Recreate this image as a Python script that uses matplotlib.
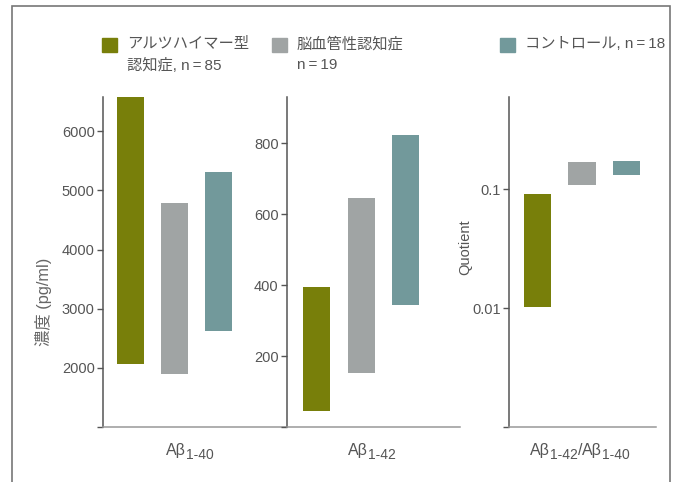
import matplotlib
matplotlib.use("Agg")
import matplotlib.pyplot as plt
from matplotlib.patches import Rectangle

plt.rcParams['font.family'] = ['Liberation Sans', 'Noto Sans CJK JP', 'DejaVu Sans']

# groups and their colours
groups = ['アルツハイマー型\n認知症, n\u2009=\u200985', '脳血管性認知症\nn\u2009=\u200919',
          'コントロール, n\u2009=\u200918']
colors = ['#787f0a', '#a0a4a4', '#72999b']

# concentration ranges (low, high) per group
ab40_low = [2070, 1900, 2620]
ab40_high = [6580, 4780, 5320]
ab42_low = [44, 151, 345]
ab42_high = [395, 646, 822]
ratio_low = [0.0102, 0.109, 0.132]
ratio_high = [0.0907, 0.169, 0.172]

ab40_ticks = [1000, 2000, 3000, 4000, 5000, 6000]
ab40_ticklabels = ['', '2000', '3000', '4000', '5000', '6000']
ab42_ticks = [0, 200, 400, 600, 800]
ab42_ticklabels = ['', '200', '400', '600', '800']
ratio_ticks = [0.001, 0.01, 0.1]
ratio_ticklabels = ['', '0.01', '0.1']

W, H = 683, 482
GREY = '#555555'
fig = plt.figure(figsize=(W / 100, H / 100), dpi=100)
renderer = fig.canvas.get_renderer()

# outer frame, open at the bottom
fig.add_artist(Rectangle((12 / W, -0.05), 658 / W, 1.05 - 6 / H, transform=fig.transFigure,
                         fill=False, edgecolor='#777777', lw=1.2))


def px_axes(x0, x1, y0, y1):
    return fig.add_axes([x0 / W, (H - y1) / H, (x1 - x0) / W, (y1 - y0) / H])


def style(ax):
    for s in ['top', 'right']:
        ax.spines[s].set_visible(False)
    ax.spines['left'].set_color(GREY)
    ax.spines['left'].set_linewidth(1.1)
    ax.spines['bottom'].set_color('#999999')
    ax.spines['bottom'].set_linewidth(1.1)
    ax.tick_params(axis='y', colors=GREY, labelsize=10.5, length=4, width=1, pad=2)
    ax.tick_params(axis='y', which='minor', length=0)
    ax.set_xticks([])


def draw(ax, low, high):
    for i, (lo, hi) in enumerate(zip(low, high)):
        ax.bar(i, hi - lo, bottom=lo, width=0.61, color=colors[i])


def ab_label(cx, base, parts):
    # lay out (text, subscript?) pieces side by side, then centre the row on cx
    pieces = []
    for txt, sub in parts:
        t = fig.text(0, 0, txt, fontsize=10 if sub else 11.5, color=GREY,
                     ha='left', va='baseline')
        pieces.append((t, sub, t.get_window_extent(renderer).width))
    total = sum(w for _, _, w in pieces)
    x = cx - total / 2
    for t, sub, w in pieces:
        y = base + (4 if sub else 0)
        t.set_position((x / W, 1 - y / H))
        x += w


ax1 = px_axes(103, 287, 97, 427)
draw(ax1, ab40_low, ab40_high)
ax1.set_xlim(-0.625, 3.56)
ax1.set_ylim(1000, 6580)
ax1.set_yticks(ab40_ticks, ab40_ticklabels)
style(ax1)
fig.text(43 / W, 1 - 302 / H, '濃度 (pg/ml)', rotation=90, ha='center', va='center',
         fontsize=11.8, color='#666666')

ax2 = px_axes(287, 460, 97, 427)
draw(ax2, ab42_low, ab42_high)
ax2.set_xlim(-0.663, 3.22)
ax2.set_ylim(0, 930)
ax2.set_yticks(ab42_ticks, ab42_ticklabels)
style(ax2)

ax3 = px_axes(509, 656, 97, 427)
draw(ax3, ratio_low, ratio_high)
ax3.set_yscale('log')
ax3.set_xlim(-0.64, 2.66)
ax3.set_ylim(0.001, 0.6)
ax3.set_yticks(ratio_ticks, ratio_ticklabels)
style(ax3)
fig.text(465 / W, 1 - 247 / H, 'Quotient', rotation=90, ha='center', va='center',
         fontsize=10.5, color=GREY)

# x labels with subscripts
ab_label(190, 455, [('Aβ', False), ('1-40', True)])
ab_label(372, 455, [('Aβ', False), ('1-42', True)])
ab_label(580, 455, [('Aβ', False), ('1-42', True), ('/', False), ('Aβ', False), ('1-40', True)])

# legend boxes across the top
legend_x = [102, 272, 500]
for x, label, c in zip(legend_x, groups, colors):
    fig.add_artist(Rectangle((x / W, 1 - 52 / H), 15 / W, 14 / H, transform=fig.transFigure,
                             color=c))
    fig.text((x + 25) / W, 1 - 37 / H, label, ha='left', va='top', fontsize=11,
             color=GREY, linespacing=1.55)

fig.savefig('out.png', dpi=100)
